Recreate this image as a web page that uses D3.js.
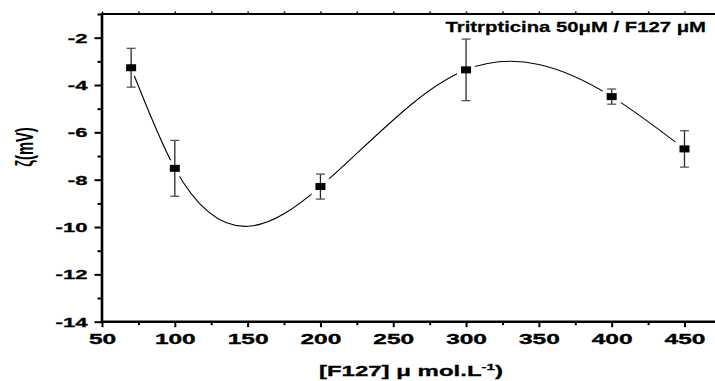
<!DOCTYPE html>
<html><head><meta charset="utf-8">
<script src="https://cdn.jsdelivr.net/npm/d3@7"></script>
<style>body{margin:0;background:#fff}svg{display:block}</style>
</head><body>
<svg id="c" width="715" height="381"></svg>
<script>
// ---- data ----
const concentration = [70, 100, 200, 300, 400, 450];
const zeta = [-3.27, -7.52, -8.29, -3.36, -4.49, -6.70];
const zetaError = [0.82, 1.18, 0.53, 1.30, 0.32, 0.77];
const xTickValues = [50, 100, 150, 200, 250, 300, 350, 400, 450];
const xMinorTicks = [75, 125, 175, 225, 275, 325, 375, 425, 475];
const topTicks = [50, 75, 100, 125, 150, 175, 200, 225, 250, 275, 300, 325, 350, 375, 400, 425, 450, 475];
const yTickValues = [-14, -12, -10, -8, -6, -4, -2];
const yMinorTicks = [-13, -11, -9, -7, -5, -3, -1];
const titleText = "Tritrpticina 50\u03BCM / F127 \u03BCM";
const xLabelMain = "[F127] \u03BC mol.L";
const xLabelSup = "-1";
const yLabelText = "\u03B6(mV)";

const FONT = "'Liberation Sans', Arial, Helvetica, sans-serif";
const data = concentration.map((c, i) => ({c, z: zeta[i], e: zetaError[i]}));

const svg = d3.select("#c");
const x = d3.scaleLinear().domain([50, 475]).range([102, 720.9]);
const y = d3.scaleLinear().domain([-14, -1]).range([321.7, 14]);

// natural cubic spline in x (Origin-style "spline" connection)
function NaturalX(context) { this._context = context; }
NaturalX.prototype = {
  areaStart() { this._line = 0; }, areaEnd() { this._line = NaN; },
  lineStart() { this._px = []; this._py = []; },
  point(a, b) { this._px.push(+a); this._py.push(+b); },
  lineEnd() {
    const X = this._px, Y = this._py, n = X.length, ctx = this._context;
    if (!n) return;
    ctx.moveTo(X[0], Y[0]);
    if (n === 1) return;
    if (n === 2) { ctx.lineTo(X[1], Y[1]); return; }
    const h = [], d = [];
    for (let i = 0; i < n - 1; i++) { h[i] = X[i + 1] - X[i]; d[i] = (Y[i + 1] - Y[i]) / h[i]; }
    const m = n - 2, A = [], B = [], C = [], R = [];
    for (let k = 0; k < m; k++) {
      const i = k + 1;
      A[k] = h[i - 1]; B[k] = 2 * (h[i - 1] + h[i]); C[k] = h[i]; R[k] = 6 * (d[i] - d[i - 1]);
    }
    for (let k = 1; k < m; k++) {
      const w = A[k] / B[k - 1];
      B[k] -= w * C[k - 1]; R[k] -= w * R[k - 1];
    }
    const sol = new Array(m);
    sol[m - 1] = R[m - 1] / B[m - 1];
    for (let k = m - 2; k >= 0; k--) sol[k] = (R[k] - C[k] * sol[k + 1]) / B[k];
    const M = [0, ...sol, 0];
    const s = [];
    for (let i = 0; i < n - 1; i++) s[i] = d[i] - h[i] * (2 * M[i] + M[i + 1]) / 6;
    s[n - 1] = d[n - 2] + h[n - 2] * (M[n - 2] + 2 * M[n - 1]) / 6;
    for (let i = 0; i < n - 1; i++) {
      ctx.bezierCurveTo(X[i] + h[i] / 3, Y[i] + s[i] * h[i] / 3,
                        X[i + 1] - h[i] / 3, Y[i + 1] - s[i + 1] * h[i] / 3,
                        X[i + 1], Y[i + 1]);
    }
  }
};
const curveNaturalX = ctx => new NaturalX(ctx);

// ---- axes ----
const y0 = y(-14), yTop = y(-1), xLeft = x(50);

const gxMinor = svg.append("g").attr("transform", `translate(0,${y0})`)
  .call(d3.axisBottom(x).tickValues(xMinorTicks).tickSize(3.5).tickSizeOuter(0).tickFormat(""));
const gx = svg.append("g").attr("transform", `translate(0,${y0})`)
  .call(d3.axisBottom(x).tickValues(xTickValues).tickSize(5.5).tickSizeOuter(0).tickFormat(d => String(d)));
const gTop = svg.append("g").attr("transform", `translate(0,${yTop})`)
  .call(d3.axisTop(x).tickValues(topTicks).tickSize(2.5).tickSizeOuter(0).tickFormat(""));
const gyMinor = svg.append("g").attr("transform", `translate(${xLeft},0)`)
  .call(d3.axisLeft(y).tickValues(yMinorTicks).tickSize(4.5).tickSizeOuter(0).tickFormat(""));
const gy = svg.append("g").attr("transform", `translate(${xLeft},0)`)
  .call(d3.axisLeft(y).tickValues(yTickValues).tickSize(7.5).tickSizeOuter(0).tickFormat(d => String(d)));

[gxMinor, gx, gTop, gyMinor, gy].forEach(g => {
  g.select(".domain").remove();
  g.selectAll(".tick line").attr("stroke", "#000").attr("stroke-width", 2);
});
gTop.selectAll(".tick line").attr("stroke-width", 1.5);

gx.selectAll(".tick text")
  .attr("y", null).attr("dy", null)
  .attr("transform", "translate(0,22.6) scale(1.58,1)")
  .attr("font-family", FONT).attr("font-size", 15.5).attr("font-weight", "bold").attr("fill", "#000")
  .attr("stroke", "#000").attr("stroke-width", 0.35);
gy.selectAll(".tick text")
  .attr("x", null).attr("dy", "0.35em")
  .attr("transform", "translate(-14.5,0) scale(1.7,1)")
  .attr("font-family", FONT).attr("font-size", 13).attr("font-weight", "bold").attr("fill", "#000")
  .attr("stroke", "#000").attr("stroke-width", 0.3);

// frame lines
svg.append("line").attr("x1", xLeft).attr("x2", xLeft).attr("y1", yTop - 1).attr("y2", y0 + 1.25)
  .attr("stroke", "#000").attr("stroke-width", 2.6);
svg.append("line").attr("x1", xLeft).attr("x2", 715).attr("y1", y0).attr("y2", y0)
  .attr("stroke", "#000").attr("stroke-width", 2.6);
svg.append("line").attr("x1", xLeft).attr("x2", 715).attr("y1", yTop).attr("y2", yTop)
  .attr("stroke", "#000").attr("stroke-width", 2);

// ---- spline ----
const line = d3.line().x(d => x(d.c)).y(d => y(d.z)).curve(curveNaturalX);
svg.append("path").datum(data).attr("d", line)
  .attr("fill", "none").attr("stroke", "#000").attr("stroke-width", 1.1);

// gaps around markers
svg.append("g").selectAll("rect").data(data).join("rect")
  .attr("x", d => x(d.c) - 9).attr("y", d => y(d.z) - 8)
  .attr("width", 18).attr("height", 16).attr("fill", "#fff");

// error bars
const eb = svg.append("g").attr("stroke", "#2a2a2a").attr("stroke-width", 1.3);
eb.selectAll("line.v").data(data).join("line").attr("class", "v")
  .attr("x1", d => x(d.c)).attr("x2", d => x(d.c))
  .attr("y1", d => y(d.z + d.e)).attr("y2", d => y(d.z - d.e));
eb.selectAll("line.t").data(data).join("line").attr("class", "t")
  .attr("x1", d => x(d.c) - 4.5).attr("x2", d => x(d.c) + 4.5)
  .attr("y1", d => y(d.z + d.e)).attr("y2", d => y(d.z + d.e)).attr("stroke", "#555");
eb.selectAll("line.b").data(data).join("line").attr("class", "b")
  .attr("x1", d => x(d.c) - 4.5).attr("x2", d => x(d.c) + 4.5)
  .attr("y1", d => y(d.z - d.e)).attr("y2", d => y(d.z - d.e)).attr("stroke", "#555");

// markers
svg.append("g").selectAll("rect").data(data).join("rect")
  .attr("x", d => x(d.c) - 5).attr("y", d => y(d.z) - 3.5)
  .attr("width", 10).attr("height", 7).attr("fill", "#000");

// ---- texts ----
svg.append("text").text(titleText)
  .attr("transform", "translate(706,31.5) scale(1.31,1)")
  .attr("text-anchor", "end").attr("font-family", FONT).attr("font-size", 15.5)
  .attr("font-weight", "bold").attr("fill", "#000").attr("stroke", "#000").attr("stroke-width", 0.25);

const xl = svg.append("text")
  .attr("transform", "translate(411,376) scale(1.6,1)")
  .attr("text-anchor", "middle").attr("font-family", FONT).attr("font-size", 15)
  .attr("font-weight", "bold").attr("fill", "#000").attr("stroke", "#000").attr("stroke-width", 0.3);
xl.append("tspan").text(xLabelMain);
xl.append("tspan").text(xLabelSup).attr("font-size", 9.5).attr("dy", -6.5);
xl.append("tspan").text(")").attr("dy", 6.5);

svg.append("text").text(yLabelText)
  .attr("transform", "translate(33,147) rotate(-90) scale(1,1.6)")
  .attr("text-anchor", "middle").attr("font-family", FONT).attr("font-size", 14.7)
  .attr("font-weight", "bold").attr("fill", "#000");
</script>
</body></html>
